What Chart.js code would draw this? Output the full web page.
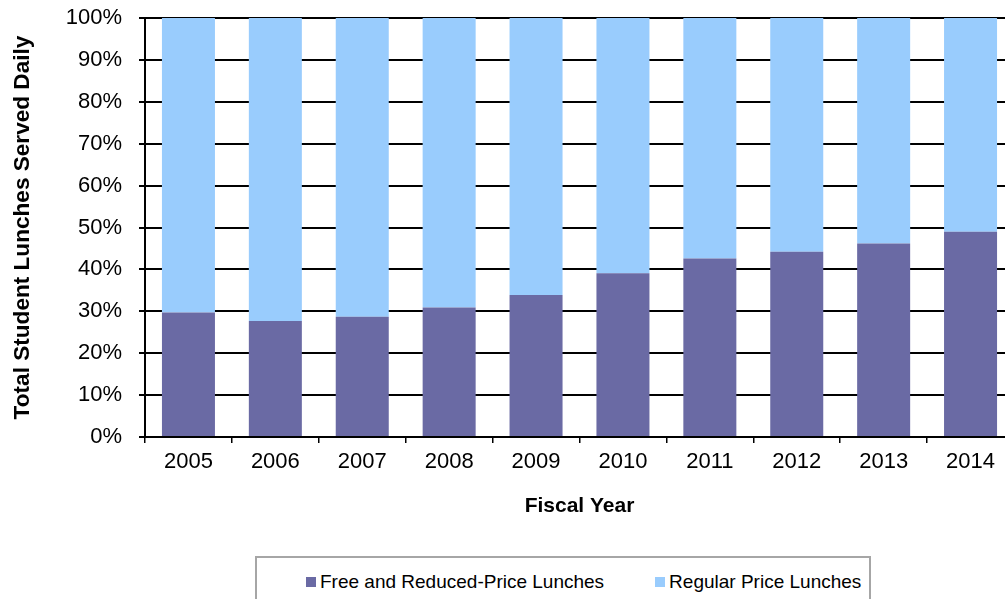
<!DOCTYPE html>
<html>
<head>
<meta charset="utf-8">
<script src="https://cdn.jsdelivr.net/npm/chart.js@4"></script>
<style>
  body { margin: 0; background: #fff; overflow: hidden; }
  #wrap { position: relative; width: 1020px; height: 599px; }
  #legend {
    position: absolute; left: 255px; top: 556px; width: 616px; height: 60px;
    border: 2px solid #a6a6a6; background: #fff;
    font-family: Arial, "Liberation Sans", sans-serif; font-size: 19px; color: #000;
    display: flex; align-items: flex-start; padding: 13px 0 0 49px; box-sizing: border-box;
    line-height: 22px;
  }
  #legend .item { display: flex; align-items: center; }
  #legend .box { width: 10px; height: 10px; margin-right: 4px; }
</style>
</head>
<body>
<div id="wrap">
  <canvas id="myChart" width="1020" height="599"></canvas>
  <div id="legend"></div>
</div>
<script>
// fiscal years along the bottom
const years = ['2005', '2006', '2007', '2008', '2009', '2010', '2011', '2012', '2013', '2014'];
// share of daily lunches, percent
const freeReduced = [29.7, 27.7, 28.7, 30.9, 33.9, 39.1, 42.6, 44.2, 46.2, 49.0];
const regularPrice = [70.3, 72.3, 71.3, 69.1, 66.1, 60.9, 57.4, 55.8, 53.8, 51.0];
const seriesNames = ['Free and Reduced-Price Lunches', 'Regular Price Lunches'];
const yTicks = [0, 10, 20, 30, 40, 50, 60, 70, 80, 90, 100];

const font = 'Arial, "Liberation Sans", sans-serif';

const ctx = document.getElementById('myChart');
const myChart = new Chart(ctx, {
    type: 'bar',
    data: {
        labels: years,
        datasets: [
            {
                label: seriesNames[0],
                data: freeReduced,
                backgroundColor: '#6a6aa4'
            },
            {
                label: seriesNames[1],
                data: regularPrice,
                backgroundColor: '#99ccfd'
            }
        ]
    },
    options: {
        responsive: false,
        animation: false,
        categoryPercentage: 1,
        barPercentage: 0.61,
        layout: { padding: { top: 18, right: 6, bottom: 43, left: 0 } },
        plugins: {
            legend: { display: false },
            tooltip: { enabled: false }
        },
        scales: {
            x: {
                stacked: true,
                grid: { drawOnChartArea: false, color: '#000', lineWidth: 1.5, tickLength: 6 },
                border: { color: '#000', width: 2 },
                ticks: { color: '#000', font: { family: font, size: 22 }, padding: 6 },
                title: {
                    display: true, text: 'Fiscal Year', color: '#000',
                    font: { family: font, size: 21, weight: 'bold' },
                    padding: { top: 0, bottom: 37 }
                },
                afterFit: function (scale) {
                    scale.height = 119;
                    scale.paddingLeft = 0;
                    scale.paddingRight = 0;
                }
            },
            y: {
                stacked: true,
                min: 0,
                max: 100,
                afterBuildTicks: function (scale) {
                    scale.ticks = yTicks.map(v => ({ value: v }));
                },
                grid: { color: '#000', lineWidth: 2, tickLength: 6 },
                border: { color: '#000', width: 2 },
                ticks: {
                    color: '#000', font: { family: font, size: 22 }, padding: 17,
                    callback: v => v + '%'
                },
                title: {
                    display: true, text: 'Total Student Lunches Served Daily', color: '#000',
                    font: { family: font, size: 22.6, weight: 'bold' },
                    padding: { top: 9, bottom: 0 }
                },
                afterFit: function (scale) {
                    scale.width = 145;
                    scale.paddingTop = 0;
                    scale.paddingBottom = 0;
                }
            }
        }
    }
});

// legend built from the datasets
const legendEl = document.getElementById('legend');
myChart.data.datasets.forEach((ds, i) => {
    const item = document.createElement('div');
    item.className = 'item';
    if (i > 0) item.style.marginLeft = '51px';
    const box = document.createElement('span');
    box.className = 'box';
    box.style.background = ds.backgroundColor;
    const txt = document.createElement('span');
    txt.textContent = ds.label;
    item.appendChild(box);
    item.appendChild(txt);
    legendEl.appendChild(item);
});
</script>
</body>
</html>
